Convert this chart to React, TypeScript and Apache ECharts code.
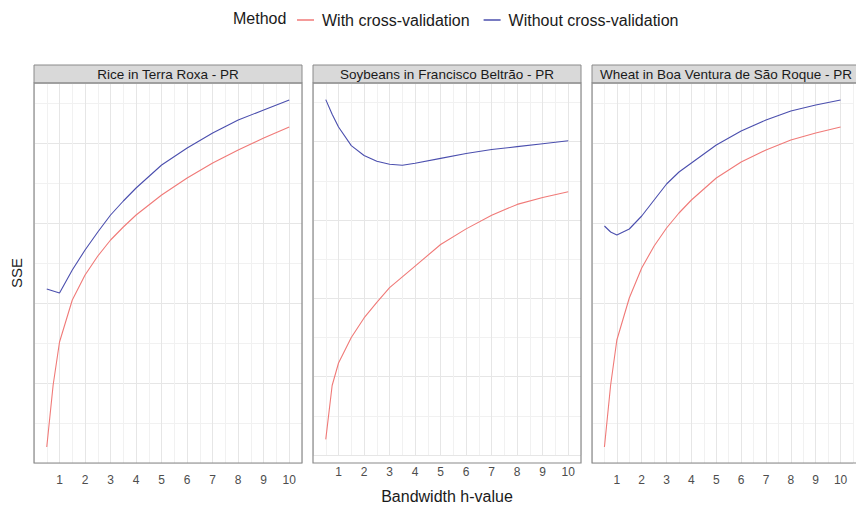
import React, { useEffect, useRef } from "react";
import * as echarts from "echarts";

const methods = ["With cross-validation", "Without cross-validation"];
const panelTitles = [
  "Rice in Terra Roxa - PR",
  "Soybeans in Francisco Beltrão - PR",
  "Wheat in Boa Ventura de São Roque - PR",
];
const bandwidth = [0.5, 0.75, 1, 1.5, 2, 2.5, 3, 3.5, 4, 5, 6, 7, 8, 9, 10];
const xTicks = [1, 2, 3, 4, 5, 6, 7, 8, 9, 10];

const riceWith = [4, 19.5, 30.25, 40.75, 47, 51.75, 55.75, 59, 62, 67, 71.25, 75, 78.25, 81.25, 84];
const riceWithout = [43.5, 43, 42.5, 48.25, 53.25, 57.75, 62, 65.5, 68.75, 74.5, 78.75, 82.5, 85.75, 88.25, 90.75];
const soyWith = [4, 17.75, 23.5, 30, 35, 39, 42.75, 45.5, 48.25, 53.75, 57.75, 61.25, 64, 65.75, 67.25];
const soyWithout = [90.75, 87, 83.75, 79, 76.5, 75, 74.25, 74, 74.5, 75.75, 77, 78, 78.75, 79.5, 80.25];
const wheatWith = [4, 19.5, 30.75, 41.25, 48.75, 54.25, 58.75, 62.5, 65.75, 71.25, 75.25, 78.25, 80.75, 82.5, 84];
const wheatWithout = [59.25, 57.75, 57, 58.5, 61.75, 65.75, 69.75, 72.75, 75, 79.5, 83, 85.75, 88, 89.5, 90.75];

const FONT = "'Liberation Sans', Arial, sans-serif";

export default function App() {
  const ref = useRef<HTMLDivElement>(null);
  useEffect(() => {
    const chart = echarts.init(ref.current!, null, { renderer: "svg" });
    const lefts = [34, 313, 592];
    const W = 268;
    const TOP = 83;
    const H = 380;
    const STRIP_TOP = 65;
    const STRIP_H = 18;
    const panelData = [
      [riceWith, riceWithout],
      [soyWith, soyWithout],
      [wheatWith, wheatWithout],
    ];
    const colors = ["#F07A78", "#4B4FAE"];

    const grids = lefts.map((l) => ({ left: l, top: TOP, width: W, height: H, containLabel: false }));
    const xAxes = lefts.map((_, i) => ({
      type: "value",
      gridIndex: i,
      min: 0,
      max: 10.5,
      interval: 0.5,
      axisLine: { show: false },
      axisTick: { show: false },
      axisLabel: {
        formatter: (v: number) => (xTicks.includes(v) ? String(v) : ""),
        color: "#4d4d4d",
        fontSize: 12,
        margin: 11,
        fontFamily: FONT,
      },
      splitLine: { show: true, lineStyle: { color: ["#e6e6e6", "#f1f1f1"], width: 1 } },
      name: i === 1 ? "Bandwidth h-value" : "",
      nameLocation: "middle",
      nameGap: 33,
      nameTextStyle: { color: "#1a1a1a", fontSize: 16, fontFamily: FONT },
    }));
    const yAxes = lefts.map((_, i) => ({
      type: "value",
      gridIndex: i,
      min: 0,
      max: 95,
      interval: 10,
      axisLine: { show: false },
      axisTick: { show: false },
      axisLabel: { show: false },
      splitLine: { show: true, lineStyle: { color: ["#e6e6e6", "#f1f1f1"], width: 1 } },
      name: i === 0 ? "SSE" : "",
      nameLocation: "middle",
      nameGap: 10,
      nameRotate: 90,
      nameTextStyle: { color: "#1a1a1a", fontSize: 15, fontFamily: FONT },
    }));
    const series: any[] = [];
    panelData.forEach((pair, i) => {
      pair.forEach((vals, m) => {
        series.push({
          type: "line",
          name: methods[m],
          xAxisIndex: i,
          yAxisIndex: i,
          data: bandwidth.map((x, k) => [x, vals[k]]),
          symbol: "none",
          smooth: false,
          lineStyle: { color: colors[m], width: 1.1 },
          itemStyle: { color: colors[m] },
          z: 3,
        });
      });
    });

    const graphics: any[] = [];
    lefts.forEach((l, i) => {
      graphics.push({
        type: "rect",
        shape: { x: l, y: STRIP_TOP, width: W, height: STRIP_H },
        style: { fill: "#d9d9d9", stroke: "#8a8a8a", lineWidth: 1 },
        z: 10,
      });
      graphics.push({
        type: "text",
        x: l + W / 2,
        y: STRIP_TOP + STRIP_H / 2 + 0.5,
        style: {
          text: panelTitles[i],
          fill: "#1a1a1a",
          fontSize: 13.5,
          fontFamily: FONT,
          align: "center",
          verticalAlign: "middle",
        },
        z: 11,
      });
      graphics.push({
        type: "rect",
        shape: { x: l, y: TOP, width: W, height: H },
        style: { fill: "none", stroke: "#8a8a8a", lineWidth: 1.2 },
        z: 10,
      });
    });
    graphics.push({
      type: "text",
      x: 233,
      y: 18,
      style: { text: "Method", fill: "#1a1a1a", fontSize: 16, fontFamily: FONT, verticalAlign: "middle" },
    });

    chart.setOption({
      animation: false,
      backgroundColor: "#ffffff",
      legend: {
        data: methods.map((n) => ({ name: n, icon: "rect" })),
        left: 292,
        top: 7,
        itemWidth: 17,
        itemHeight: 1.5,
        itemGap: 14,
        textStyle: { color: "#1a1a1a", fontSize: 16, fontFamily: FONT, padding: [0, 0, 0, 3] },
      },
      grid: grids,
      xAxis: xAxes,
      yAxis: yAxes,
      series,
      graphic: graphics,
    });
    return () => chart.dispose();
  }, []);
  return (
    <div
      ref={ref}
      style={{ position: "fixed", left: 0, top: 0, width: 856, height: 509, background: "#fff" }}
    />
  );
}
